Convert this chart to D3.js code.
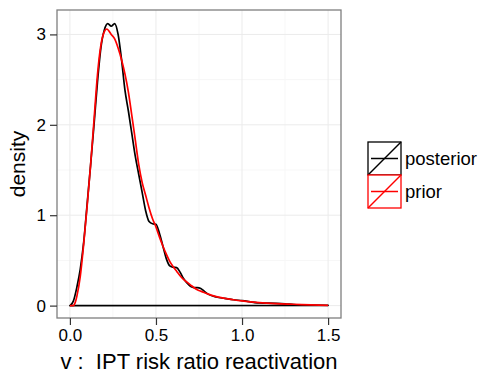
<!DOCTYPE html>
<html>
<head>
<meta charset="utf-8">
<script src="https://cdn.jsdelivr.net/npm/d3@7"></script>
<style>
  body { margin: 0; background: #fff; }
  svg { display: block; font-family: "Liberation Sans", Arial, sans-serif; }
</style>
</head>
<body>
<div id="chart"></div>
<script>
// density curves
const postX = [0, 0.02, 0.04, 0.06, 0.08, 0.10, 0.12, 0.14, 0.16, 0.18, 0.20, 0.22, 0.24, 0.26, 0.28, 0.30,
  0.32, 0.34, 0.36, 0.38, 0.40, 0.42, 0.44, 0.46, 0.48, 0.50, 0.52, 0.54, 0.56, 0.58, 0.60, 0.62, 0.64,
  0.66, 0.68, 0.70, 0.72, 0.74, 0.76, 0.78, 0.80, 0.85, 0.90, 0.95, 1.0, 1.1, 1.2, 1.25, 1.3, 1.4, 1.5];
const postY = [0, 0.05, 0.2, 0.4, 0.7, 1.12, 1.55, 2.0, 2.47, 2.85, 3.05, 3.12, 3.09, 3.12, 3.0, 2.72,
  2.38, 2.15, 1.9, 1.65, 1.45, 1.25, 1.05, 0.93, 0.905, 0.9, 0.8, 0.66, 0.52, 0.44, 0.425, 0.42, 0.37,
  0.3, 0.25, 0.215, 0.2, 0.2, 0.19, 0.16, 0.13, 0.095, 0.08, 0.065, 0.055, 0.03, 0.025, 0.02, 0.012, 0.006, 0.003];

const priorX = [0, 0.02, 0.03, 0.04, 0.06, 0.08, 0.10, 0.12, 0.14, 0.16, 0.18, 0.20, 0.214, 0.24, 0.26, 0.28,
  0.30, 0.32, 0.34, 0.36, 0.38, 0.40, 0.42, 0.44, 0.46, 0.48, 0.50, 0.52, 0.54, 0.56, 0.58, 0.60, 0.62,
  0.64, 0.66, 0.68, 0.70, 0.72, 0.74, 0.76, 0.78, 0.80, 0.85, 0.90, 0.95, 1.0, 1.1, 1.2, 1.3, 1.4, 1.5];
const priorY = [0, 0, 0.03, 0.1, 0.32, 0.68, 1.1, 1.55, 2.05, 2.55, 2.88, 3.03, 3.06, 3.0, 2.95, 2.85,
  2.72, 2.56, 2.36, 2.1, 1.83, 1.56, 1.36, 1.22, 1.08, 0.96, 0.87, 0.76, 0.66, 0.57, 0.49, 0.43, 0.38,
  0.33, 0.29, 0.26, 0.23, 0.2, 0.175, 0.16, 0.145, 0.13, 0.1, 0.08, 0.065, 0.052, 0.033, 0.022, 0.015, 0.008, 0.003];

const series = ['posterior', 'prior'];
const colors = ['#000000', '#ff0000'];
const xTicks = [0, 0.5, 1.0, 1.5];
const xMinor = [0.25, 0.75, 1.25];
const yTicks = [0, 1, 2, 3];
const yMinor = [0.5, 1.5, 2.5];

const W = 485, H = 378;
const P = { left: 57, right: 341, top: 10, bottom: 318 };

const svg = d3.select('#chart').append('svg')
  .attr('width', W).attr('height', H);

const x = d3.scaleLinear().domain([-0.075, 1.575]).range([P.left, P.right]);
const y = d3.scaleLinear().domain([-0.137, 3.27]).range([P.bottom, P.top]);

// panel + grid
svg.append('rect')
  .attr('x', P.left).attr('y', P.top)
  .attr('width', P.right - P.left).attr('height', P.bottom - P.top)
  .attr('fill', '#fff');

const grid = svg.append('g');
grid.selectAll('.xmin').data(xMinor).enter().append('line')
  .attr('x1', d => x(d)).attr('x2', d => x(d)).attr('y1', P.top).attr('y2', P.bottom)
  .attr('stroke', '#f7f7f7').attr('stroke-width', 1);
grid.selectAll('.ymin').data(yMinor).enter().append('line')
  .attr('y1', d => y(d)).attr('y2', d => y(d)).attr('x1', P.left).attr('x2', P.right)
  .attr('stroke', '#f7f7f7').attr('stroke-width', 1);
grid.selectAll('.xmaj').data(xTicks).enter().append('line')
  .attr('x1', d => x(d)).attr('x2', d => x(d)).attr('y1', P.top).attr('y2', P.bottom)
  .attr('stroke', '#ebebeb').attr('stroke-width', 1);
grid.selectAll('.ymaj').data(yTicks).enter().append('line')
  .attr('y1', d => y(d)).attr('y2', d => y(d)).attr('x1', P.left).attr('x2', P.right)
  .attr('stroke', '#ebebeb').attr('stroke-width', 1);

// curves
const line = d3.line().x(d => x(d[0])).y(d => y(d[1])).curve(d3.curveMonotoneX);
const post = postX.map((v, i) => [v, postY[i]]);
const prior = priorX.map((v, i) => [v, priorY[i]]);

// posterior drawn as closed density outline (with baseline)
svg.append('path')
  .attr('d', line(post) + `L${x(postX[0])},${y(0)}Z`)
  .attr('fill', 'none').attr('stroke', colors[0]).attr('stroke-width', 1.7)
  .attr('stroke-linejoin', 'round');
svg.append('path')
  .attr('d', line(prior))
  .attr('fill', 'none').attr('stroke', colors[1]).attr('stroke-width', 1.7)
  .attr('stroke-linejoin', 'round');

// panel border
svg.append('rect')
  .attr('x', P.left).attr('y', P.top)
  .attr('width', P.right - P.left).attr('height', P.bottom - P.top)
  .attr('fill', 'none').attr('stroke', '#7f7f7f').attr('stroke-width', 1.3);

// axes
const xAxis = svg.append('g').attr('transform', `translate(0,${P.bottom})`)
  .call(d3.axisBottom(x).tickValues(xTicks).tickFormat(d3.format('.1f')).tickSize(7).tickPadding(4));
const yAxis = svg.append('g').attr('transform', `translate(${P.left},0)`)
  .call(d3.axisLeft(y).tickValues(yTicks).tickFormat(d3.format('d')).tickSize(7).tickPadding(4));
[xAxis, yAxis].forEach(a => {
  a.select('.domain').remove();
  a.selectAll('.tick line').attr('stroke', '#333').attr('stroke-width', 1.2);
  a.selectAll('.tick text').attr('fill', '#000').style('font-size', '17px')
    .style('font-family', '"Liberation Sans", Arial, sans-serif');
});

// axis titles
svg.append('text')
  .attr('x', (P.left + P.right) / 2).attr('y', 369)
  .attr('text-anchor', 'middle').style('font-size', '22px')
  .style('white-space', 'pre')
  .text('v :  IPT risk ratio reactivation');
svg.append('text')
  .attr('transform', `translate(25,${(P.top + P.bottom) / 2}) rotate(-90)`)
  .attr('text-anchor', 'middle').style('font-size', '21px')
  .text('density');

// legend
const key = 33;
const lg = svg.append('g').attr('transform', 'translate(368,142)');
series.forEach((s, i) => {
  const g = lg.append('g').attr('transform', `translate(0,${i * key})`);
  g.append('rect').attr('x', 0).attr('y', 0).attr('width', key).attr('height', key)
    .attr('fill', '#fff').attr('stroke', colors[i]).attr('stroke-width', 1.3);
  g.append('line').attr('x1', 0).attr('y1', key).attr('x2', key).attr('y2', 0)
    .attr('stroke', colors[i]).attr('stroke-width', 1.5);
  g.append('line').attr('x1', 3).attr('y1', key / 2).attr('x2', key - 3).attr('y2', key / 2)
    .attr('stroke', colors[i]).attr('stroke-width', 1.5);
  g.append('text').attr('x', key + 4).attr('y', key / 2).attr('dy', '0.35em')
    .style('font-size', '18.5px').text(s);
});
</script>
</body>
</html>
